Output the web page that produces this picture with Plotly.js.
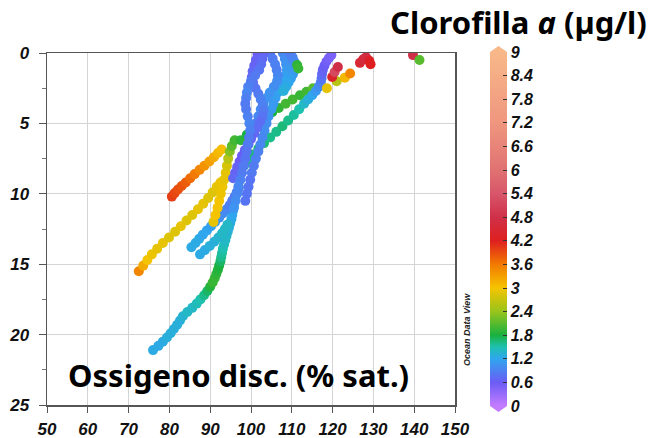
<!DOCTYPE html>
<html>
<head>
<meta charset="utf-8">
<script src="https://cdn.plot.ly/plotly-3.0.1.min.js"></script>
<style>html,body{margin:0;padding:0;background:#fff;}#chart{width:649px;height:438px;}</style>
</head>
<body>
<div id="chart"></div>
<script>
// ---- Data (oxygen % saturation, depth m, chlorophyll a µg/l) ----
// Orange short profile
const A_o2    = [80.6, 81.3, 82.1, 83.0, 84.0, 85.1, 86.2, 87.4, 88.6, 89.8, 90.9, 91.9, 92.8];
const A_depth = [10.2, 9.95, 9.7, 9.45, 9.2, 8.9, 8.6, 8.3, 8.0, 7.7, 7.4, 7.1, 6.85];
const A_chl   = [4.0, 3.95, 3.9, 3.85, 3.8, 3.7, 3.6, 3.5, 3.4, 3.3, 3.2, 3.1, 3.05];

// Yellow long profile
const B_o2    = [72.5, 73.6, 74.6, 75.7, 77.0, 78.4, 79.9, 81.4, 82.8, 84.2, 85.6, 87.0, 88.3, 89.5, 90.6, 91.6, 92.5];
const B_depth = [15.5, 15.1, 14.7, 14.3, 13.9, 13.5, 13.1, 12.7, 12.3, 11.9, 11.5, 11.1, 10.7, 10.3, 9.9, 9.5, 9.2];
const B_chl   = [3.5, 3.2, 3.0, 2.95, 2.9, 2.9, 2.85, 2.85, 2.9, 2.85, 2.85, 2.9, 2.9, 2.85, 2.85, 2.9, 2.95];

// Yellow near-vertical profile turning green
const C_o2    = [90.8, 91.3, 91.8, 92.2, 92.6, 93.0, 93.4, 93.8, 94.1, 94.4, 94.8, 95.3, 96.0];
const C_depth = [12.0, 11.5, 11.0, 10.5, 10.0, 9.5, 9.0, 8.5, 8.0, 7.5, 7.0, 6.6, 6.2];
const C_chl   = [2.9, 3.0, 3.0, 3.0, 2.95, 2.95, 2.9, 2.9, 2.8, 2.6, 2.3, 2.1, 2.0];

// Green diagonal (upper)
const G1_o2    = [97.5, 99.0, 100.5, 102.0, 103.5, 105.2, 106.8, 108.5, 110.2, 112.0, 113.6, 115.2];
const G1_depth = [6.2, 5.8, 5.4, 5.0, 4.6, 4.2, 3.9, 3.6, 3.3, 3.0, 2.75, 2.5];
const G1_chl   = [1.9, 1.8, 1.7, 1.6, 1.7, 1.8, 1.9, 2.0, 2.0, 1.95, 2.0, 2.1];

// Green diagonal (lower) turning cyan / violet at surface
const G2_o2    = [98.3, 99.3, 100.5, 101.8, 103.2, 104.7, 106.2, 107.7, 109.1, 110.5, 111.8, 113.0, 114.0, 115.0, 115.9, 116.6, 117.1, 117.3, 117.4, 117.6, 118.0, 118.5, 119.1, 119.7];
const G2_depth = [8.0, 7.6, 7.2, 6.8, 6.4, 6.0, 5.6, 5.2, 4.8, 4.4, 4.0, 3.6, 3.3, 3.0, 2.7, 2.4, 2.1, 1.8, 1.5, 1.2, 0.9, 0.6, 0.35, 0.15];
const G2_chl   = [1.6, 1.6, 1.65, 1.7, 1.65, 1.6, 1.6, 1.65, 1.6, 1.55, 1.5, 1.4, 1.3, 1.2, 1.1, 1.0, 0.9, 0.8, 0.7, 0.65, 0.6, 0.55, 0.5, 0.5];

// Long deep profile (cyan -> green -> cyan)
const P5_o2    = [76.0, 77.3, 78.4, 79.4, 80.3, 81.1, 81.9, 82.6, 83.3, 84.4, 85.6, 86.7, 87.6, 88.5, 89.3, 90.0, 90.6, 91.1, 91.5, 91.9, 92.2, 92.5, 92.7, 92.9, 93.1, 93.4, 93.7, 94.0, 94.3, 94.6, 94.9, 95.2, 95.4, 95.6, 95.8];
const P5_depth = [21.1, 20.8, 20.5, 20.2, 19.9, 19.6, 19.3, 19.0, 18.7, 18.4, 18.1, 17.8, 17.5, 17.2, 16.9, 16.6, 16.3, 16.0, 15.7, 15.4, 15.1, 14.8, 14.5, 14.2, 13.9, 13.6, 13.3, 13.0, 12.7, 12.4, 12.1, 11.8, 11.5, 11.2, 10.9];
const P5_chl   = [1.25, 1.25, 1.25, 1.3, 1.3, 1.3, 1.3, 1.3, 1.35, 1.4, 1.4, 1.45, 1.5, 1.6, 1.7, 1.85, 1.95, 1.95, 1.9, 1.85, 1.8, 1.7, 1.6, 1.55, 1.5, 1.45, 1.4, 1.4, 1.35, 1.3, 1.3, 1.25, 1.2, 1.2, 1.15];

// Short cyan profiles
const P3_o2    = [85.4, 86.4, 87.3, 88.2, 89.2, 90.2, 91.2, 92.2, 93.1, 94.0, 94.8, 95.4, 96.0, 96.5, 97.0];
const P3_depth = [13.8, 13.5, 13.2, 12.9, 12.6, 12.3, 12.0, 11.7, 11.4, 11.1, 10.8, 10.5, 10.2, 9.9, 9.6];
const P3_chl   = [1.25, 1.25, 1.25, 1.2, 1.2, 1.15, 1.1, 1.05, 1.0, 0.95, 0.9, 0.85, 0.85, 0.8, 0.8];

const P4_o2    = [87.5, 88.7, 89.9, 91.0, 92.0, 92.9, 93.6, 94.2];
const P4_depth = [14.3, 14.0, 13.7, 13.4, 13.1, 12.8, 12.5, 12.2];
const P4_chl   = [1.25, 1.25, 1.3, 1.3, 1.35, 1.4, 1.4, 1.4];

// Blue / violet surface bundle
const BL1_o2    = [103.0, 102.8, 102.5, 102.0, 101.0, 100.0, 99.3, 99.0, 98.8, 98.6, 98.8, 99.2, 99.6, 99.8, 99.5, 99.2, 98.9, 98.6, 98.2, 97.8, 97.4, 97.0, 96.6, 96.2, 95.8];
const BL1_depth = [0.0, 0.4, 0.8, 1.2, 1.6, 2.0, 2.4, 2.8, 3.2, 3.6, 4.0, 4.5, 5.0, 5.5, 6.0, 6.5, 7.0, 7.5, 8.0, 8.5, 9.0, 9.5, 10.0, 10.5, 11.0];
const BL1_chl   = [0.65, 0.7, 0.75, 0.8, 0.85, 0.85, 0.9, 0.95, 0.9, 0.85, 0.85, 0.9, 0.95, 0.9, 0.85, 0.85, 0.8, 0.8, 0.85, 0.85, 0.9, 0.95, 0.95, 1.0, 1.05];

const BL2_o2    = [104.7, 105.3, 105.9, 106.3, 106.6, 106.4, 105.6, 104.6, 103.8, 103.0, 102.4, 101.8, 101.2, 100.6, 100.0, 99.4, 98.9, 98.4, 98.0, 97.6, 97.2, 96.9, 96.5];
const BL2_depth = [0.0, 0.4, 0.8, 1.2, 1.6, 2.0, 2.4, 2.8, 3.2, 3.6, 4.0, 4.5, 5.0, 5.5, 6.0, 6.5, 7.0, 7.5, 8.0, 8.5, 9.0, 9.5, 10.0];
const BL2_chl   = [0.8, 0.85, 0.9, 0.9, 0.95, 1.0, 1.0, 1.05, 1.05, 1.05, 1.0, 0.95, 0.9, 0.9, 0.85, 0.85, 0.85, 0.85, 0.9, 0.9, 0.95, 0.95, 1.0];

const BL3_o2    = [107.8, 108.3, 108.6, 108.8, 108.5, 107.9, 107.2, 106.6, 106.0, 105.5, 105.0, 104.3, 103.8, 103.3, 102.8, 102.3, 101.8, 101.2, 100.7, 100.2, 99.8, 99.4, 99.0, 98.6];
const BL3_depth = [0.0, 0.4, 0.8, 1.2, 1.6, 2.0, 2.4, 2.8, 3.2, 3.6, 4.0, 4.5, 5.0, 5.5, 6.0, 6.5, 7.0, 7.5, 8.0, 8.5, 9.0, 9.5, 10.0, 10.5];
const BL3_chl   = [0.95, 1.0, 1.05, 1.1, 1.15, 1.2, 1.2, 1.2, 1.15, 1.1, 1.1, 1.05, 1.0, 1.0, 0.95, 0.95, 0.9, 0.9, 0.85, 0.85, 0.8, 0.8, 0.8, 0.8];

const BL4_o2    = [109.6, 110.2, 110.6, 110.8, 110.7, 110.3, 109.8, 109.2, 108.6, 108.0, 111.3, 111.6];
const BL4_depth = [0.0, 0.3, 0.6, 0.9, 1.2, 1.5, 1.8, 2.1, 2.4, 2.7, 0.85, 1.1];
const BL4_chl   = [0.85, 0.9, 0.95, 1.0, 1.05, 1.1, 1.15, 1.2, 1.25, 1.3, 1.9, 1.95];

const BL5_o2    = [101.6, 101.2, 100.8, 100.4, 100.2, 100.5, 101.1, 101.8, 102.4, 102.9, 103.1, 102.8, 102.2, 101.5, 100.8, 100.0, 99.2, 98.5, 97.8, 97.2, 96.6, 96.1, 95.6];
const BL5_depth = [0.1, 0.5, 0.9, 1.3, 1.7, 2.1, 2.5, 2.9, 3.3, 3.7, 4.1, 4.5, 4.9, 5.3, 5.7, 6.1, 6.5, 6.9, 7.3, 7.7, 8.1, 8.5, 8.9];
const BL5_chl   = [0.6, 0.65, 0.65, 0.7, 0.7, 0.75, 0.8, 0.85, 0.9, 0.9, 0.85, 0.8, 0.75, 0.75, 0.7, 0.65, 0.65, 0.65, 0.6, 0.6, 0.65, 0.65, 0.7];

// High-oxygen surface points
const S_o2    = [118.6, 121.0, 123.0, 124.3, 119.9, 120.5, 121.3, 126.7, 127.5, 128.2, 129.0, 129.3, 139.7, 141.3];
const S_depth = [2.5, 2.0, 1.75, 1.45, 1.7, 1.35, 1.0, 0.7, 0.45, 0.3, 0.55, 0.8, 0.15, 0.5];
const S_chl   = [2.9, 2.6, 3.1, 3.5, 4.4, 5.2, 4.8, 4.5, 4.6, 4.7, 4.3, 4.2, 4.8, 2.1];

// Axis / colorbar ticks
const xTicks = [50, 60, 70, 80, 90, 100, 110, 120, 130, 140, 150];
const yTicks = [0, 5, 10, 15, 20, 25];
const cbTicks = [0, 0.6, 1.2, 1.8, 2.4, 3, 3.6, 4.2, 4.8, 5.4, 6, 6.6, 7.2, 7.8, 8.4, 9];
const cbLabels = ['0', '0.6', '1.2', '1.8', '2.4', '3', '3.6', '4.2', '4.8', '5.4', '6', '6.6', '7.2', '7.8', '8.4', '9'];

const tracks = [
  [P5_o2, P5_depth, P5_chl],
  [P4_o2, P4_depth, P4_chl],
  [P3_o2, P3_depth, P3_chl],
  [B_o2, B_depth, B_chl],
  [A_o2, A_depth, A_chl],
  [C_o2, C_depth, C_chl],
  [G1_o2, G1_depth, G1_chl],
  [G2_o2, G2_depth, G2_chl],
  [BL3_o2, BL3_depth, BL3_chl],
  [BL2_o2, BL2_depth, BL2_chl],
  [BL5_o2, BL5_depth, BL5_chl],
  [BL1_o2, BL1_depth, BL1_chl],
  [BL4_o2, BL4_depth, BL4_chl],
  [S_o2, S_depth, S_chl]
];

const traces = tracks.map(t => ({
  type: 'scatter', mode: 'markers',
  x: t[0], y: t[1],
  marker: {size: 10, color: t[2], coloraxis: 'coloraxis', line: {width: 0}},
  hoverinfo: 'x+y', showlegend: false
}));

const bi = s => '<b><i>' + s + '</i></b>';
const tickFont = {family: 'Liberation Sans, Arial, sans-serif', size: 17, color: '#111'};
const bigFont = {family: 'Noto Sans, sans-serif', size: 31, color: '#000'};

// colorbar geometry in paper units
const cbX0 = (490 - 47) / 408, cbX1 = (507 - 47) / 408, cbXm = (cbX0 + cbX1) / 2;

const layout = {
  width: 649, height: 438,
  margin: {l: 47, r: 194, t: 53, b: 33, pad: 0},
  paper_bgcolor: '#fff', plot_bgcolor: '#fff',
  showlegend: false,
  xaxis: {
    range: [50, 150], tickvals: xTicks, ticktext: xTicks.map(v => bi(String(v))),
    showgrid: true, gridcolor: '#d4d4d4', gridwidth: 1,
    showline: true, linecolor: '#555', linewidth: 1.5, mirror: true,
    ticks: 'outside', ticklen: 6, tickcolor: '#555', tickwidth: 1,
    tickfont: tickFont, zeroline: false, ticklabelstandoff: 2
  },
  yaxis: {
    range: [25, 0], tickvals: yTicks, ticktext: yTicks.map(v => bi(String(v))),
    showgrid: true, gridcolor: '#d4d4d4', gridwidth: 1,
    showline: true, linecolor: '#555', linewidth: 1.5, mirror: true,
    ticks: 'outside', ticklen: 7, tickcolor: '#555', tickwidth: 1,
    tickfont: tickFont, zeroline: false, ticklabelstandoff: 6,
    minor: {tickvals: [2.5, 7.5, 12.5, 17.5, 22.5], ticks: 'outside', ticklen: 4, tickcolor: '#777', showgrid: false}
  },
  coloraxis: {
    cmin: 0, cmax: 9,
    colorscale: [
      [0, '#c47cff'], [0.0667, '#6b5cf5'], [0.1333, '#2fa6ee'], [0.1667, '#1ec0b0'],
      [0.2, '#19b13f'], [0.2667, '#98c41c'], [0.3333, '#f5c400'], [0.4, '#f27a00'],
      [0.4667, '#df1f1f'], [0.5333, '#cf3048'], [0.6, '#d8566a'], [0.6667, '#e07272'],
      [0.8, '#ef967f'], [1, '#f8b889']
    ],
    colorbar: {
      xref: 'paper', x: cbX0, xanchor: 'left', xpad: 0,
      yref: 'paper', y: 0.5, yanchor: 'middle', ypad: 0,
      thickness: 17, thicknessmode: 'pixels',
      len: 354, lenmode: 'pixels',
      outlinewidth: 0,
      tickvals: cbTicks, ticktext: cbLabels.map(bi),
      ticks: 'inside', ticklen: 4, tickcolor: '#333',
      tickfont: {family: 'Liberation Sans, Arial, sans-serif', size: 16, color: '#111'}
    }
  },
  shapes: [
    {type: 'path', xref: 'paper', yref: 'paper', line: {width: 0}, fillcolor: '#f8b889',
     path: `M ${cbX0} 1.003 L ${cbX1} 1.003 L ${cbXm} 1.02 Z`},
    {type: 'path', xref: 'paper', yref: 'paper', line: {width: 0}, fillcolor: '#c47cff',
     path: `M ${cbX0} -0.003 L ${cbX1} -0.003 L ${cbXm} -0.02 Z`}
  ],
  annotations: [
    {text: '<b>Clorofilla <i>a</i> (µg/l)</b>', xref: 'paper', yref: 'paper',
     x: (649 - 47) / 408, y: (405 - 22) / 352, xanchor: 'right', yanchor: 'middle',
     showarrow: false, font: {family: 'Noto Sans, sans-serif', size: 31, color: '#000'}},
    {text: '<b>Ossigeno disc. (% sat.)</b>', xref: 'paper', yref: 'paper',
     x: (66 - 47) / 408, y: (405 - 375) / 352, xanchor: 'left', yanchor: 'middle',
     showarrow: false, font: bigFont},
    {text: '<b><i>Ocean Data View</i></b>', xref: 'paper', yref: 'paper',
     x: (467 - 47) / 408, y: (405 - 329) / 352, xanchor: 'center', yanchor: 'middle',
     textangle: -90, showarrow: false,
     font: {family: 'Liberation Sans, Arial, sans-serif', size: 9, color: '#222'}}
  ]
};

Plotly.newPlot('chart', traces, layout, {displayModeBar: false, staticPlot: true});
</script>
</body>
</html>
